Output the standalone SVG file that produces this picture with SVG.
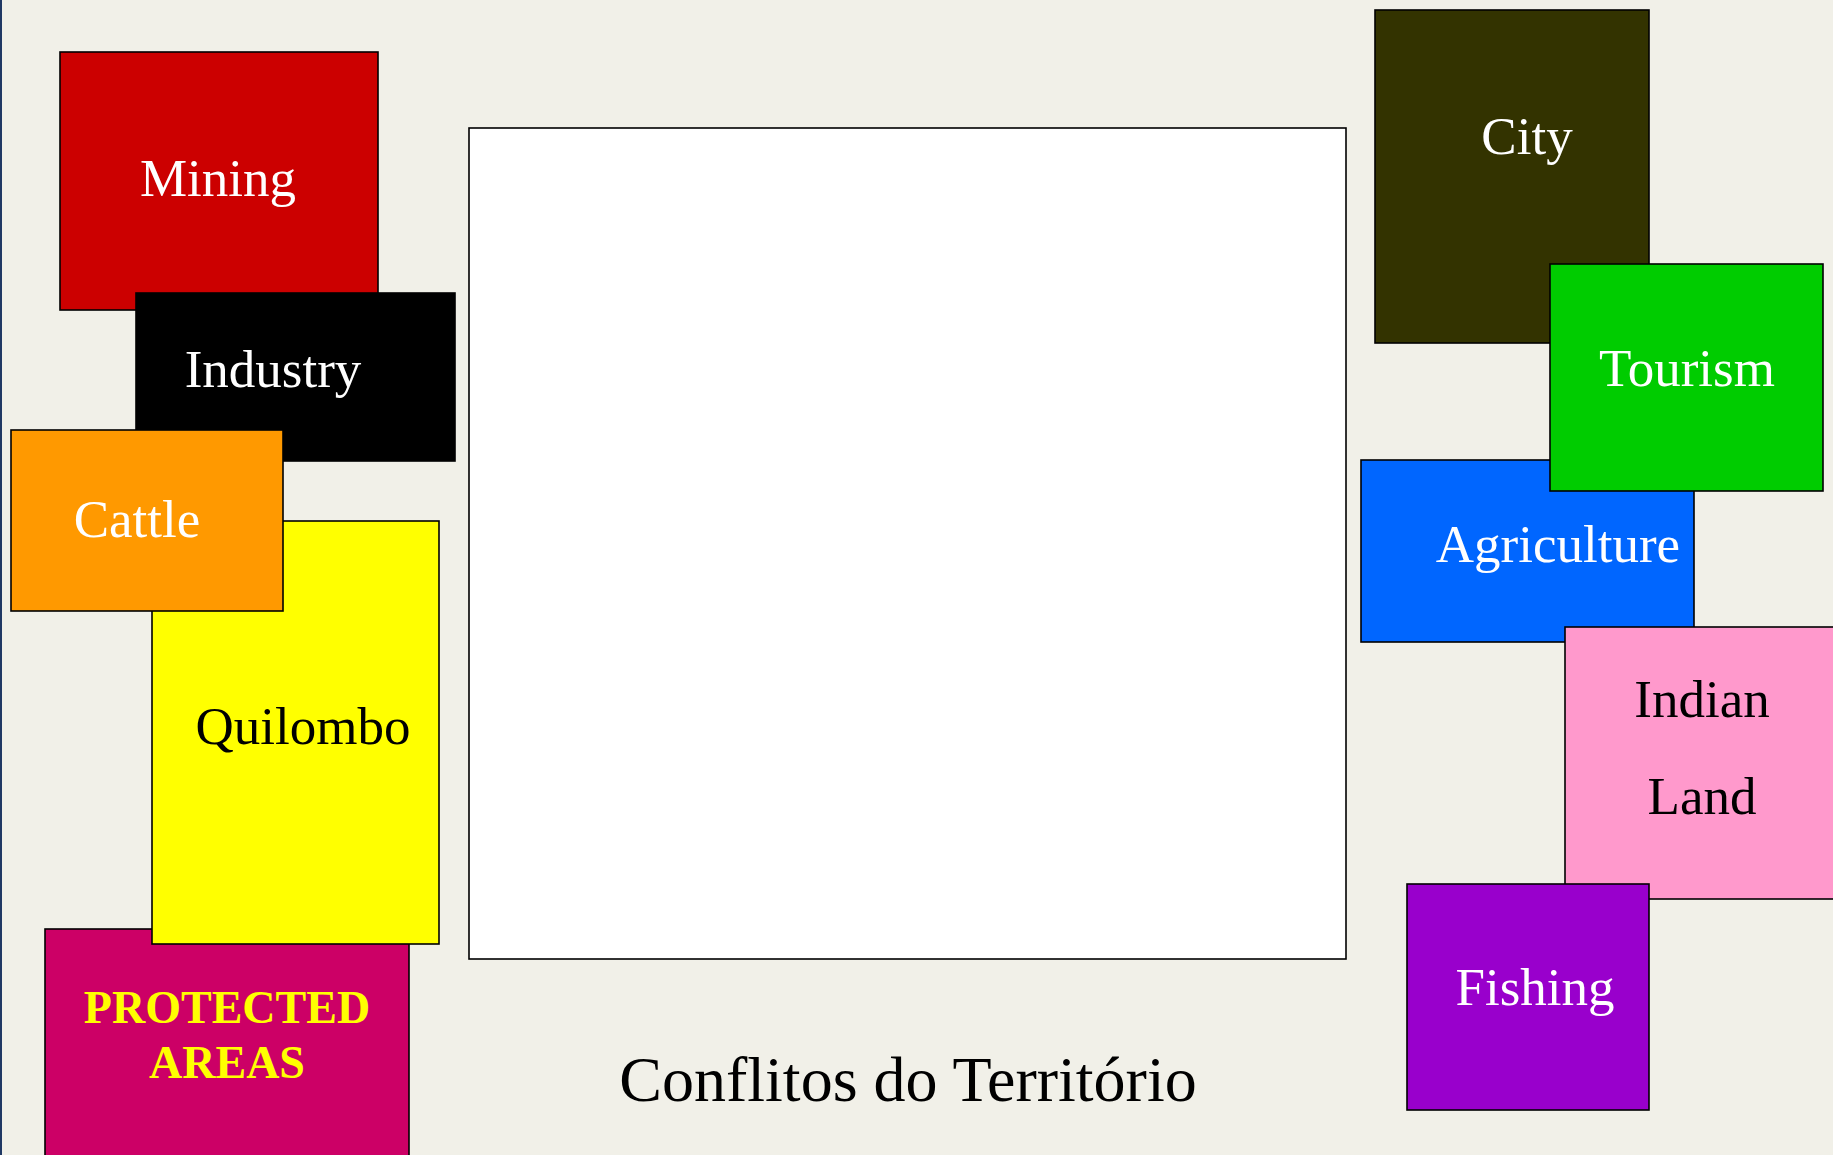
<svg xmlns="http://www.w3.org/2000/svg" width="1833" height="1155" viewBox="0 0 1833 1155">
<style>
.box{stroke:#000;stroke-width:1.6}
.t{font-family:"Liberation Serif","Times New Roman",serif;font-size:53px;text-anchor:middle}
.w{fill:#fff}
.k{fill:#000}
</style>
<rect x="0" y="0" width="1833" height="1155" fill="#F1F0E8"/>
<rect x="0" y="0" width="2" height="1155" fill="#203864"/>
<g id="connectors"></g>
<g id="mining"><rect class="box" x="60" y="52" width="318" height="258" fill="#CC0000"/><text class="t w" x="218" y="196">Mining</text></g>
<g id="industry"><rect class="box" x="136" y="293" width="319" height="168" fill="#000000"/><text class="t w" x="273" y="387">Industry</text></g>
<g id="protected"><rect class="box" x="45" y="929" width="364" height="240" fill="#CC0066"/><text x="227" y="1023" style="font-family:'Liberation Serif','Times New Roman',serif;font-size:46px;font-weight:bold;text-anchor:middle;fill:#FFFF00"><tspan x="227" y="1023">PROTECTED</tspan><tspan x="227" y="1078">AREAS</tspan></text></g>
<g id="quilombo"><rect class="box" x="152" y="521" width="287" height="423" fill="#FFFF00"/><text class="t k" x="303" y="744">Quilombo</text></g>
<g id="cattle"><rect class="box" x="11" y="430" width="272" height="181" fill="#FF9900"/><text class="t w" x="137" y="537">Cattle</text></g>
<g id="map"><rect x="469" y="128" width="877" height="831" fill="#FFFFFF" stroke="#000" stroke-width="1.6"/></g>
<g id="title"><text x="908" y="1101" style="font-family:'Liberation Serif','Times New Roman',serif;font-size:64px;text-anchor:middle;fill:#000">Conflitos do Território</text></g>
<g id="city"><rect class="box" x="1375" y="10" width="274" height="333" fill="#333300"/><text class="t w" x="1527" y="154">City</text></g>
<g id="agriculture"><rect class="box" x="1361" y="460" width="333" height="182" fill="#0066FF"/><text class="t w" x="1558" y="562">Agriculture</text></g>
<g id="tourism"><rect class="box" x="1550" y="264" width="273" height="227" fill="#00CC00"/><text class="t w" x="1687" y="386">Tourism</text></g>
<g id="indian"><rect class="box" x="1565" y="627" width="280" height="272" fill="#FF99CC"/><text class="t k" x="1702" y="717">Indian</text><text class="t k" x="1702" y="814">Land</text></g>
<g id="fishing"><rect class="box" x="1407" y="884" width="242" height="226" fill="#9900CC"/><text class="t w" x="1535" y="1005">Fishing</text></g>
</svg>
